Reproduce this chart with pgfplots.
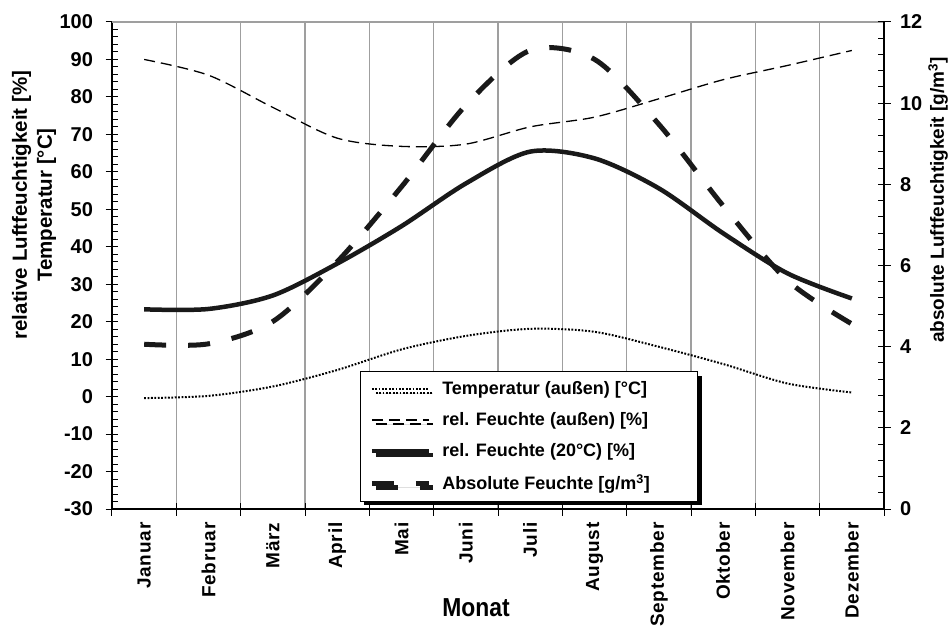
\documentclass[border=0pt]{standalone}
\usepackage{fontspec}
\setmainfont{Liberation Sans}
\usepackage{graphicx}
\usepackage{pgfplots}
\pgfplotsset{compat=1.18}
\usetikzlibrary{shadows}

% Monatsmitte bei x = 0.5 ... 11.5
\pgfplotstableread{
m    temp  relaus  rel20  abs
0.5  -0.4  90.0    23.3   4.06
1.5   0.2  85.8    23.4   4.07
2.5   2.7  77.2    27.0   4.62
3.5   7.1  69.0    35.5   6.09
4.5  12.6  66.8    45.5   7.94
5.5  16.2  67.4    56.9   9.95
6.5  18.1  72.0    65.4  11.30
7.5  17.3  74.6    63.6  11.08
8.5  13.3  79.5    55.6   9.48
9.5   8.7  84.6    43.6   7.47
10.5  3.5  88.4    32.9   5.63
11.5  1.1  92.4    26.2   4.56
}\klima

\newcommand\tickfont{\bfseries\fontsize{20}{20}\selectfont}

\pgfplotsset{
  base/.style={
    at={(0,0)}, anchor=south west, scale only axis,
    width=772pt, height=487pt, xmin=0, xmax=12,
    tick align=center, major tick length=13pt, minor tick length=6.5pt,
    tick style={black, line width=1pt},
    axis line style={black, line width=1.2pt},
    tick label style={font=\tickfont},
  },
}

\begin{document}
\begin{tikzpicture}[font=\bfseries]
\begin{axis}[base,
  ymin=-30, ymax=100,
  axis x line*=bottom, axis y line*=left,
  xtick={0,...,12}, xticklabels={},
  xmajorgrids, grid style={gray!75, line width=1.1pt},
  extra x ticks={0.5,1.5,2.5,3.5,4.5,5.5,6.5,7.5,8.5,9.5,10.5,11.5},
  extra x tick labels={Januar,Februar,März,April,Mai,Juni,Juli,August,September,Oktober,November,Dezember},
  extra x tick style={grid=none, major tick length=0pt,
    xticklabel style={yshift=-10pt, xshift=0pt, rotate=90, anchor=east,
      font=\bfseries\fontsize{19}{19}\selectfont\addfontfeature{LetterSpace=4}}},
  ytick={-30,-20,...,100},
  yticklabels={-30,-20,-10,0,10,20,30,40,50,60,70,80,90,100},
  yticklabel style={xshift=-9pt},
  minor y tick num=4,
  every minor tick/.append style={xshift=3.25pt},
]
\draw[gray!75, line width=1.1pt] (rel axis cs:0,1) -- (rel axis cs:1,1);
\addplot[black, line width=2pt, dash pattern=on 1.8pt off 1.6pt, smooth] table[x=m, y=temp] {\klima};
\addplot[black, line width=1.3pt, dash pattern=on 11pt off 6pt, smooth] table[x=m, y=relaus] {\klima};
\addplot[black!90, line width=4.5pt, smooth] table[x=m, y=rel20] {\klima};
\end{axis}

\begin{axis}[base,
  ymin=0, ymax=12,
  axis x line=none, axis y line*=right,
  ytick={0,2,...,12},
  yticklabels={0,2,4,6,8,10,12},
  yticklabel style={xshift=6pt},
  minor y tick num=4,
  every minor tick/.append style={xshift=-3.25pt},
  legend style={at={(0.321,0.0144)}, anchor=south west,
    draw=black, line width=1pt, fill=white,
    drop shadow={shadow xshift=4pt, shadow yshift=-4pt, fill=black, opacity=1},
    font=\bfseries\fontsize{18}{18}\selectfont,
    row sep=12.5pt, column sep=9pt, inner xsep=9pt, inner ysep=8pt},
  legend cell align=left,
  legend image code/.code={\draw[#1] (0pt,0pt) -- (57pt,0pt);},
]
\addlegendimage{black, line width=2pt, dash pattern=on 1.8pt off 1.6pt}
\addlegendentry{Temperatur (außen) [°C]}
\addlegendimage{black, line width=1.3pt, dash pattern=on 11pt off 6pt}
\addlegendentry{rel. Feuchte (außen) [\%]}
\addlegendimage{black!90, line width=4.5pt}
\addlegendentry{rel. Feuchte (20°C) [\%]}
\addplot[black!90, line width=5pt, dash pattern=on 22pt off 22pt, smooth] table[x=m, y=abs] {\klima};
\addlegendentry{Absolute Feuchte [g/m\textsuperscript{3}]\rule[-20pt]{0pt}{0pt}\hspace*{37pt}}
\end{axis}

\node[rotate=90, align=center, font=\bfseries\fontsize{20.5}{25}\selectfont] at (-78pt,304pt)
  {relative Luftfeuchtigkeit [\%]\\Temperatur [°C]};
\node[rotate=90, font=\bfseries\fontsize{19}{25}\selectfont] at (826pt,309pt)
  {absolute Luftfeuchtigkeit [g/m\textsuperscript{3}]};
\node[font=\bfseries\fontsize{26}{26}\selectfont] at (364pt,-99pt) {\scalebox{0.88}[1]{Monat}};

\pgfresetboundingbox
\useasboundingbox (-112pt,-123pt) rectangle (838pt,509pt);
\end{tikzpicture}
\end{document}
